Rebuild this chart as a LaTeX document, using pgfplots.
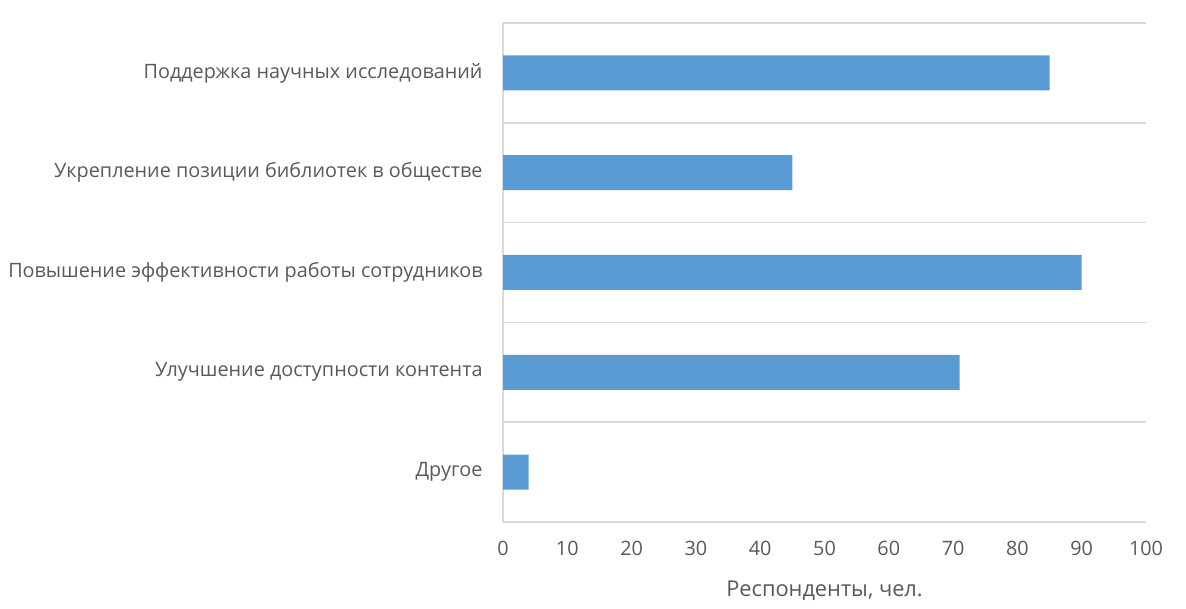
\documentclass[border=0pt]{standalone}
\usepackage{pgfplots}
\pgfplotsset{compat=1.18}
\usepackage{fontspec}
\setmainfont{Open Sans}
\definecolor{barblue}{HTML}{5B9BD5}
\definecolor{gridgray}{HTML}{D9D9D9}
\definecolor{txtgray}{HTML}{595959}
\begin{document}
\begin{tikzpicture}
\path[use as bounding box] (0,0) rectangle (1186bp,609bp);
\begin{axis}[
  at={(503bp,87bp)}, anchor=south west,
  scale only axis, width=643bp, height=499bp,
  xbar, bar width=35bp,
  xmin=0, xmax=100, ymin=-0.5, ymax=4.5,
  xtick={0,10,...,100},
  ytick={0,1,2,3,4},
  yticklabels={Другое,Улучшение доступности контента,Повышение эффективности работы сотрудников,Укрепление позиции библиотек в обществе,Поддержка научных исследований},
  minor ytick={0.5,1.5,2.5,3.5,4.5},
  ymajorgrids=false, yminorgrids=true,
  minor grid style={gridgray, line width=1.5bp},
  axis x line*=bottom, axis y line*=left,
  axis line style={gridgray, line width=1.5bp, -},
  major tick length=0pt, minor tick length=0pt,
  tick style={draw=none},
  ticklabel style={font=\fontsize{19.8bp}{24bp}\selectfont, text=txtgray},
  /pgf/number format/assume math mode=true,
  yticklabel style={xshift=-17bp},
  xticklabel style={yshift=-16bp},
  xlabel={Респонденты, чел.},
  xlabel style={font=\fontsize{21.8bp}{26bp}\selectfont, text=txtgray, yshift=-18bp},
]
\addplot[fill=barblue, draw=none] coordinates {(4,0) (71,1) (90,2) (45,3) (85,4)};
\end{axis}
\end{tikzpicture}
\end{document}
